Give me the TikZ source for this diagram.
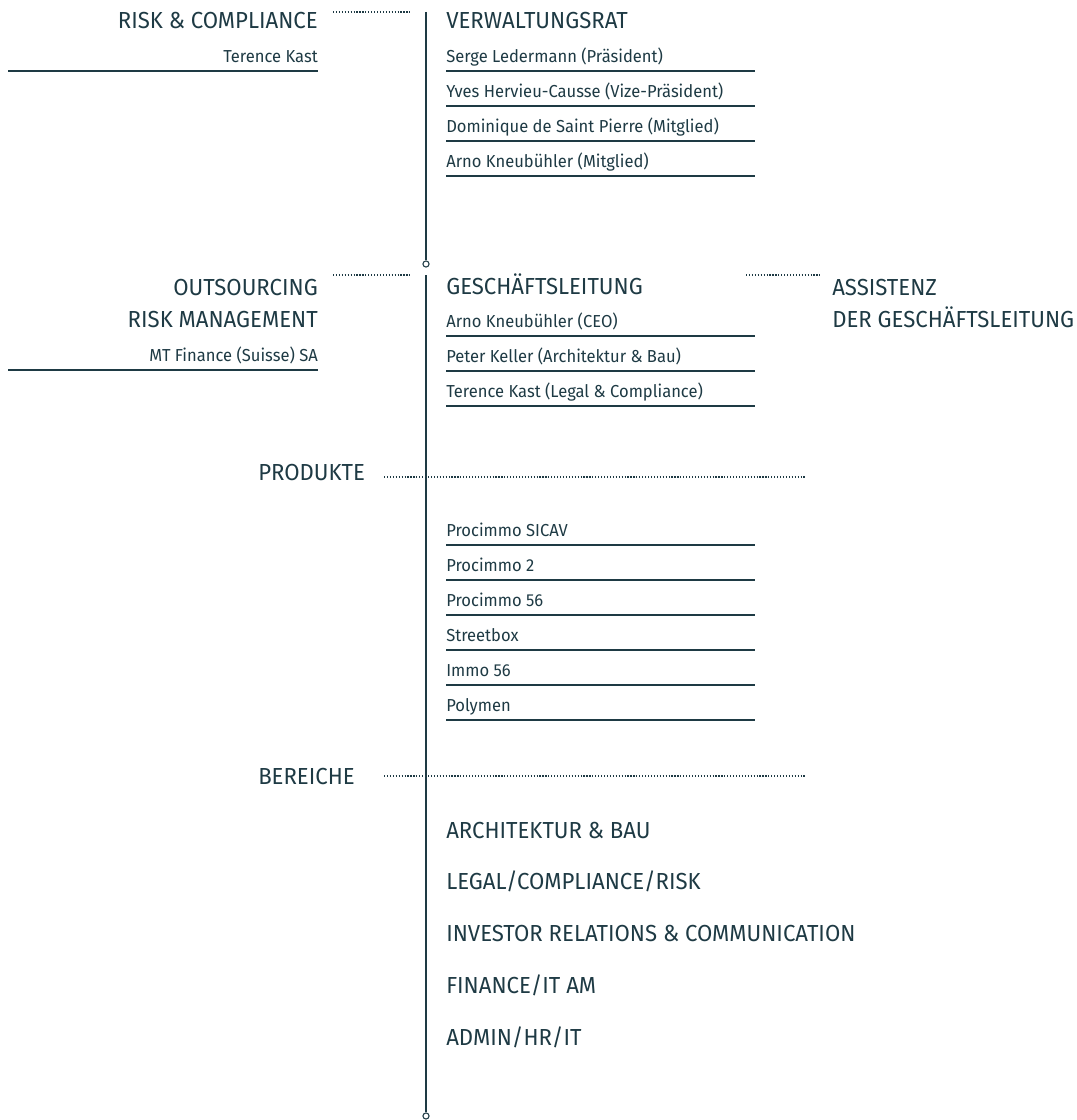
\documentclass[tikz,border=0pt]{standalone}
\usepackage{fontspec}
\setmainfont{Fira Sans}[FakeStretch=0.955]
\definecolor{ink}{HTML}{1E3A44}
\tikzset{
  head/.style={anchor=base west, font=\fontsize{17.4}{20}\selectfont, text=ink, inner sep=0pt},
  headr/.style={head, anchor=base east},
  person/.style={anchor=base west, font=\fontsize{13}{15}\selectfont, text=ink, inner sep=0pt},
  personr/.style={person, anchor=base east},
  rule/.style={draw=ink, line width=1.1pt},
  spine/.style={draw=ink, line width=1pt},
  dots/.style={draw=ink, line width=1pt, dash pattern=on 0.9pt off 1.3pt},
  knot/.style={circle, draw=ink, fill=white, line width=0.8pt, inner sep=0pt, minimum size=4.6pt},
}
\begin{document}
\begin{tikzpicture}[x=0.75pt,y=-0.75pt]
\useasboundingbox (0,0) rectangle (1077,1120);

% spine
\coordinate (top) at (426,12);
\node[knot] (knot1) at (426,264) {};
\coordinate (restart) at (426,275);
\node[knot] (knot2) at (426,1116) {};
\draw[spine] (top) -- (knot1.north);
\draw[spine] (restart) -- (knot2.north);

% risk & compliance
\node[headr] (rc) at (318,29) {RISK \& COMPLIANCE};
\node[personr] (rcname) at (318,62.5) {Terence Kast};
\draw[rule] (8,71) -- (318,71);
\coordinate (rcl) at (333,12);
\coordinate (rcr) at (410,12);
\draw[dots] (rcl) -- (rcr);

% verwaltungsrat
\node[head] (vr) at (446,29) {VERWALTUNGSRAT};
\foreach \t [count=\i] in {Serge Ledermann (Präsident),Yves Hervieu-Causse (Vize-Präsident),Dominique de Saint Pierre (Mitglied),Arno Kneubühler (Mitglied)}{
\node[person] (vr\i) at (446,{62.5+35*(\i-1)}) {\t};
\draw[rule] (446,{71+35*(\i-1)}) -- (755,{71+35*(\i-1)});
}

% outsourcing
\node[headr] (os) at (318,295) {OUTSOURCING};
\node[headr] (rm) at (318,327) {RISK MANAGEMENT};
\node[personr] (mt) at (318,361.5) {MT Finance (Suisse) SA};
\draw[rule] (8,370) -- (318,370);
\coordinate (osl) at (333,275);
\coordinate (osr) at (410,275);
\draw[dots] (osl) -- (osr);

% geschaeftsleitung
\node[head] (gl) at (446,294) {GESCHÄFTSLEITUNG};
\foreach \t [count=\i] in {Arno Kneubühler (CEO),Peter Keller (Architektur \& Bau),Terence Kast (Legal \& Compliance)}{
\node[person] (gl\i) at (446,{327.5+35*(\i-1)}) {\t};
\draw[rule] (446,{336+35*(\i-1)}) -- (755,{336+35*(\i-1)});
}

% assistenz
\coordinate (asl) at (746,275);
\coordinate (asr) at (820,275);
\draw[dots] (asl) -- (asr);
\node[head] (as1) at (832,295) {ASSISTENZ};
\node[head] (as2) at (832,327) {DER GESCHÄFTSLEITUNG};

% produkte
\node[head] (pr) at (258,480) {PRODUKTE};
\coordinate (prl) at (384,477);
\coordinate (prr) at (805,477);
\draw[dots] (prl) -- (prr);
\foreach \t [count=\i] in {Procimmo SICAV,Procimmo 2,Procimmo 56,Streetbox,Immo 56,Polymen}{
\node[person] (pr\i) at (446,{536.5+35*(\i-1)}) {\t};
\draw[rule] (446,{545+35*(\i-1)}) -- (755,{545+35*(\i-1)});
}

% bereiche
\node[head] (br) at (258,784) {BEREICHE};
\coordinate (brl) at (384,776);
\coordinate (brr) at (805,776);
\draw[dots] (brl) -- (brr);
\foreach \t [count=\i] in {ARCHITEKTUR \& BAU,LEGAL/COMPLIANCE/RISK,INVESTOR RELATIONS \& COMMUNICATION,FINANCE/IT AM,ADMIN/HR/IT}{
\node[head] (br\i) at (446,{838+51.8*(\i-1)}) {\t};
}
\end{tikzpicture}
\end{document}
